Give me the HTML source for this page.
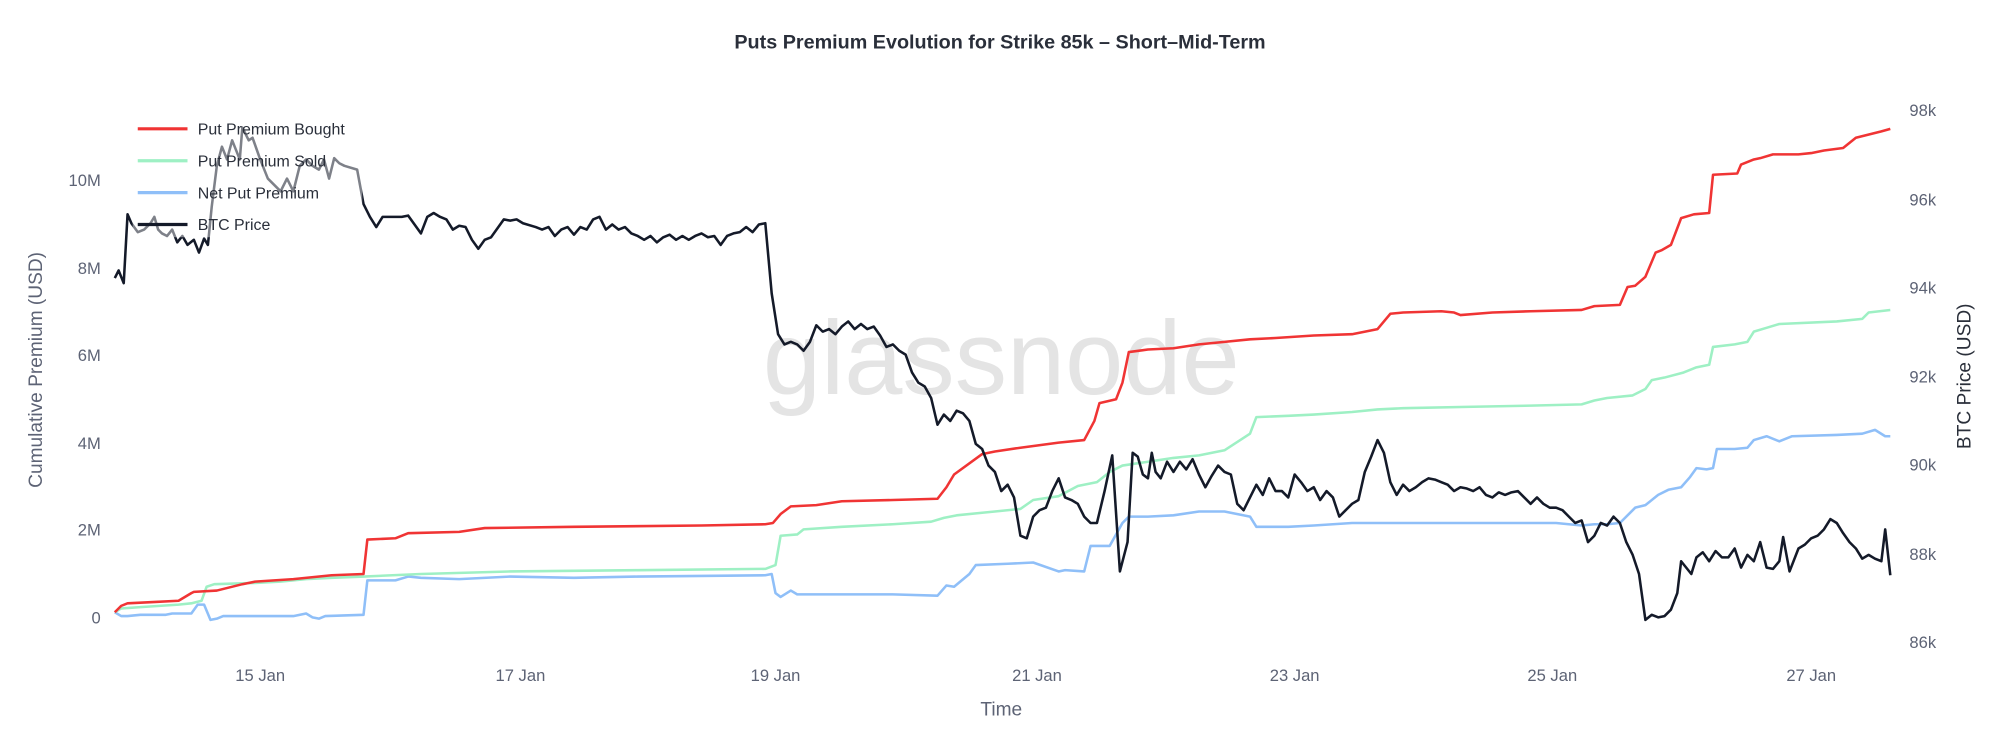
<!DOCTYPE html>
<html><head><meta charset="utf-8"><style>
html,body{margin:0;padding:0;background:#fff;}
svg{display:block;font-family:"Liberation Sans",Arial,sans-serif;}
</style></head><body>
<svg width="2000" height="749" viewBox="0 0 1568 587.2" xmlns="http://www.w3.org/2000/svg">
<rect width="1568" height="587.2" fill="#fff"/>
<text x="784" y="38" text-anchor="middle" font-size="15.5" font-weight="bold" fill="#2a2f3a">Puts Premium Evolution for Strike 85k – Short–Mid-Term</text>
<text x="785" y="309" text-anchor="middle" font-size="82" fill="#e4e4e4">glassnode</text>
<g font-size="13" fill="#5d6375">
<text x="79" y="489" text-anchor="end">0</text>
<text x="79" y="420" text-anchor="end">2M</text>
<text x="79" y="352" text-anchor="end">4M</text>
<text x="79" y="283" text-anchor="end">6M</text>
<text x="79" y="215" text-anchor="end">8M</text>
<text x="79" y="146" text-anchor="end">10M</text>
<text x="1497" y="91">98k</text>
<text x="1497" y="161">96k</text>
<text x="1497" y="230">94k</text>
<text x="1497" y="300">92k</text>
<text x="1497" y="369">90k</text>
<text x="1497" y="439">88k</text>
<text x="1497" y="508">86k</text>
<text x="204" y="534" text-anchor="middle">15 Jan</text>
<text x="408" y="534" text-anchor="middle">17 Jan</text>
<text x="608" y="534" text-anchor="middle">19 Jan</text>
<text x="813" y="534" text-anchor="middle">21 Jan</text>
<text x="1015" y="534" text-anchor="middle">23 Jan</text>
<text x="1217" y="534" text-anchor="middle">25 Jan</text>
<text x="1420" y="534" text-anchor="middle">27 Jan</text>
</g>
<text x="785" y="561" text-anchor="middle" font-size="15" fill="#5d6375">Time</text>
<text transform="translate(33,290) rotate(-90)" text-anchor="middle" font-size="15" fill="#5d6375">Cumulative Premium (USD)</text>
<text transform="translate(1545,295) rotate(-90)" text-anchor="middle" font-size="15" fill="#2a2f3a">BTC Price (USD)</text>
<g fill="none" stroke-width="2" stroke-linejoin="round">
<polyline stroke="#8fbff8" points="90,480 95,483 100,483 110,482 130,482 135,481 150,481 155,474 160,474 165,486 170,485 175,483 200,483 230,483 240,481 245,484 250,485 255,483 285,482 288,455 310,455 320,452 330,453 360,454 400,452 450,453 500,452 600,451 605,450 608,465 612,468 620,463 625,466 660,466 700,466 735,467 742,459 748,460 760,450 765,443 790,442 810,441 830,448 835,447 850,448 855,428 870,428 880,410 885,405 900,405 920,404 940,401 960,401 980,405 985,413 1010,413 1030,412 1060,410 1100,410 1150,410 1200,410 1220,410 1230,411 1240,412 1250,411 1260,411 1270,410 1282,398 1290,396 1300,388 1308,384 1318,382 1325,374 1330,367 1338,368 1343,367 1346,352 1360,352 1370,351 1375,345 1385,342 1395,346 1405,342 1440,341 1460,340 1470,337 1478,342 1482,342"/>
<polyline stroke="#9ef0c4" points="90,480 95,477 110,476 140,474 150,473 158,471 162,460 168,458 200,457 220,456 240,454 260,453 285,452 330,450 400,448 500,447 600,446 608,443 612,420 625,419 630,415 660,413 700,411 730,409 740,406 750,404 770,402 780,401 800,399 810,392 830,389 845,381 860,378 870,370 880,365 900,362 920,359 940,357 960,353 980,340 985,327 1010,326 1030,325 1060,323 1080,321 1100,320 1150,319 1200,318 1240,317 1250,314 1260,312 1280,310 1290,305 1295,298 1305,296 1320,292 1330,288 1340,286 1343,272 1360,270 1370,268 1375,260 1385,257 1395,254 1440,252 1460,250 1465,245 1482,243"/>
<polyline stroke="#f03434" points="90,480 95,475 100,473 120,472 140,471 150,465 152,464 170,463 190,458 200,456 230,454 260,451 285,450 288,423 310,422 320,418 360,417 380,414 450,413 550,412 600,411 606,410 612,403 620,397 640,396 660,393 700,392 735,391 742,382 748,372 770,356 780,354 800,351 830,347 850,345 858,330 862,316 875,313 880,300 885,276 900,274 920,273 940,270 960,268 980,266 1000,265 1030,263 1060,262 1080,258 1090,246 1100,245 1130,244 1140,245 1145,247 1170,245 1200,244 1240,243 1250,240 1270,239 1276,225 1282,224 1290,217 1298,198 1303,196 1310,192 1318,171 1328,168 1340,167 1343,137 1362,136 1365,129 1375,125 1380,124 1390,121 1410,121 1420,120 1430,118 1445,116 1455,108 1475,103 1482,101"/>
<polyline stroke="#141a29" points="90,218 93,212 97,222 100,168 103,175 108,182 113,180 118,175 121,170 124,180 127,183 131,185 135,180 139,190 143,185 147,192 152,188 156,198 160,187 163,192 166,162 170,130 174,115 178,125 182,110 188,125 190,100 195,110 198,108 204,125 210,140 215,145 220,150 225,140 230,150 235,130 240,125 245,130 250,133 254,125 258,140 262,124 266,128 270,130 280,133 285,160 290,170 295,178 300,170 315,170 320,169 325,176 330,183 335,170 340,167 345,170 350,172 355,180 360,177 365,178 370,188 375,195 380,188 385,186 395,172 400,173 405,172 410,175 420,178 425,180 430,178 435,185 440,180 445,178 450,184 455,178 460,180 465,172 470,170 475,180 480,176 485,180 490,178 495,183 500,185 505,188 510,185 515,190 520,186 525,184 530,188 535,185 540,188 545,185 550,183 555,186 560,185 565,192 570,185 575,183 580,182 585,178 590,182 595,176 600,175 605,230 610,262 615,270 620,268 625,270 630,275 635,268 640,255 645,260 650,258 655,262 660,256 665,252 670,258 675,254 680,258 685,256 690,263 695,272 700,270 705,275 710,278 715,292 720,300 725,303 730,312 735,333 740,325 745,330 750,322 755,324 760,330 765,348 770,352 775,365 780,370 785,385 790,380 795,390 800,420 805,422 810,405 815,400 820,398 825,385 830,375 835,390 840,392 845,395 850,405 855,410 860,410 866,385 872,357 878,448 884,425 888,355 892,358 896,372 900,375 903,355 906,370 910,375 915,362 920,370 925,362 930,368 935,360 940,372 945,382 950,373 955,365 960,370 965,372 970,395 975,400 980,390 985,380 990,388 995,375 1000,385 1005,385 1010,390 1015,372 1020,378 1025,385 1030,382 1035,392 1040,385 1045,390 1050,405 1055,400 1060,395 1065,392 1070,370 1075,358 1080,345 1085,355 1090,378 1095,388 1100,380 1105,385 1110,382 1115,378 1120,375 1125,376 1130,378 1135,380 1140,385 1145,382 1150,383 1155,385 1160,382 1165,388 1170,390 1175,386 1180,388 1185,386 1190,385 1195,390 1200,395 1205,390 1210,395 1215,398 1220,398 1225,400 1230,405 1235,410 1240,408 1245,425 1250,420 1255,410 1260,412 1265,405 1270,410 1275,425 1280,435 1285,450 1290,486 1295,482 1300,484 1305,483 1310,478 1315,465 1318,440 1322,445 1326,450 1330,437 1335,433 1340,440 1345,432 1350,437 1355,437 1360,430 1365,445 1370,435 1375,440 1380,425 1385,445 1390,446 1395,440 1398,421 1403,448 1410,430 1415,427 1420,422 1425,420 1430,415 1435,407 1440,410 1445,418 1450,425 1455,430 1460,438 1465,435 1470,438 1475,440 1478,415 1482,451"/>
</g>
<rect x="104" y="88" width="180" height="98" fill="#fff" opacity="0.45"/>
<g stroke-width="2.5">
<line x1="108" y1="101" x2="147" y2="101" stroke="#f03434"/>
<line x1="108" y1="126" x2="147" y2="126" stroke="#9ef0c4"/>
<line x1="108" y1="151" x2="147" y2="151" stroke="#8fbff8"/>
<line x1="108" y1="176" x2="147" y2="176" stroke="#141a29"/>
</g>
<g font-size="12.5" fill="#2a2f3a">
<text x="155" y="105.5">Put Premium Bought</text>
<text x="155" y="130.5">Put Premium Sold</text>
<text x="155" y="155.5">Net Put Premium</text>
<text x="155" y="180.5">BTC Price</text>
</g>
</svg>
</body></html>
